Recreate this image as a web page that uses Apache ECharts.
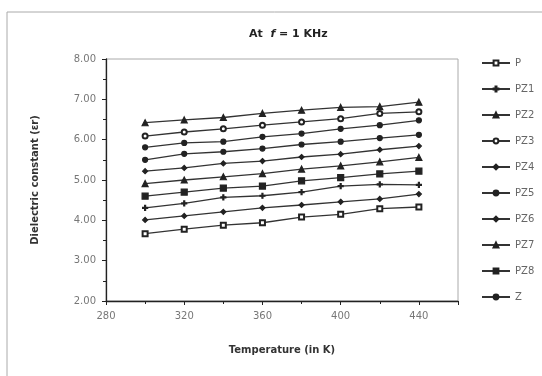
<!DOCTYPE html>
<html>
<head>
<meta charset="utf-8">
<title>At f = 1 KHz</title>
<script src="https://cdn.jsdelivr.net/npm/echarts@6/dist/echarts.min.js"></script>
<style>
  html, body { margin: 0; padding: 0; background: #fff; }
  #main { width: 542px; height: 376px; }
</style>
</head>
<body>
<div id="main"></div>
<script>
// temperature (K)
var temps = [300, 320, 340, 360, 380, 400, 420, 440];

// dielectric constant per sample
var P    = [3.67, 3.78, 3.88, 3.94, 4.08, 4.15, 4.29, 4.33];
var PZ1  = [4.31, 4.42, 4.57, 4.61, 4.70, 4.85, 4.89, 4.88];
var PZ2  = [4.91, 5.00, 5.08, 5.16, 5.27, 5.35, 5.45, 5.56];
var PZ3  = [6.09, 6.19, 6.27, 6.36, 6.44, 6.52, 6.65, 6.69];
var PZ4  = [4.01, 4.11, 4.21, 4.31, 4.38, 4.46, 4.53, 4.65];
var PZ5  = [5.50, 5.65, 5.70, 5.78, 5.88, 5.95, 6.04, 6.12];
var PZ6  = [5.22, 5.30, 5.41, 5.47, 5.57, 5.64, 5.75, 5.84];
var PZ7  = [6.42, 6.49, 6.55, 6.65, 6.73, 6.80, 6.82, 6.93];
var PZ8  = [4.60, 4.70, 4.80, 4.85, 4.98, 5.06, 5.15, 5.22];
var Z    = [5.81, 5.92, 5.95, 6.07, 6.15, 6.27, 6.36, 6.48];

var names   = ['P', 'PZ1', 'PZ2', 'PZ3', 'PZ4', 'PZ5', 'PZ6', 'PZ7', 'PZ8', 'Z'];
var values  = [P, PZ1, PZ2, PZ3, PZ4, PZ5, PZ6, PZ7, PZ8, Z];

var crossPath = 'path://M4,0L6,0L6,4L10,4L10,6L6,6L6,10L4,10L4,6L0,6L0,4L4,4Z';
var symbols = ['emptyRect', crossPath, 'triangle', 'emptyCircle', 'diamond',
               'circle', 'diamond', 'triangle', 'rect', 'circle'];
var sizes   = [5, 5, 6, 5, 5, 5, 5, 6, 6, 5];

var series = [];
for (var i = 0; i < names.length; i++) {
  var d = [];
  for (var j = 0; j < temps.length; j++) d.push([temps[j], values[i][j]]);
  series.push({
    name: names[i],
    type: 'line',
    data: d,
    symbol: symbols[i],
    symbolSize: sizes[i],
    lineStyle: { color: '#333', width: 1.3 },
    itemStyle: { color: '#222', borderColor: '#222', borderWidth: 1.2 }
  });
}

var myChart = echarts.init(document.getElementById('main'));

var option = {
  animation: false,
  backgroundColor: '#fff',
  title: {
    text: 'At  {i|f} = 1 KHz',
    left: 244,
    top: 24,
    textStyle: {
      fontFamily: 'DejaVu Sans',
      fontSize: 11,
      fontWeight: 'bold',
      color: '#222',
      rich: {
        i: { fontFamily: 'DejaVu Sans', fontSize: 11, fontStyle: 'italic', fontWeight: 'bold', color: '#222' }
      }
    }
  },
  legend: {
    orient: 'vertical',
    left: 476,
    top: 52,
    itemWidth: 28,
    itemHeight: 6,
    itemGap: 14,
    textStyle: { fontFamily: 'DejaVu Sans', fontSize: 10, color: '#666', lineHeight: 12 },
    data: names
  },
  grid: {
    left: 106, right: 84, top: 59, bottom: 75,
    show: true, borderColor: '#aaa', borderWidth: 1
  },
  xAxis: {
    type: 'value',
    min: 280, max: 460, interval: 40,
    name: 'Temperature (in K)',
    nameLocation: 'middle',
    nameGap: 44,
    nameTextStyle: { fontFamily: 'DejaVu Sans', fontSize: 10, fontWeight: 'bold', color: '#333' },
    axisLine: { lineStyle: { color: '#222', width: 1.3 } },
    axisTick: { length: 4, lineStyle: { color: '#222' } },
    minorTick: { show: true, splitNumber: 2, length: 3, lineStyle: { color: '#222' } },
    axisLabel: { showMaxLabel: false, margin: 10, fontFamily: 'DejaVu Sans', fontSize: 10, color: '#777' },
    splitLine: { show: false }
  },
  yAxis: {
    type: 'value',
    min: 2, max: 8, interval: 1,
    name: 'Dielectric constant (εr)',
    nameLocation: 'middle',
    nameGap: 66,
    nameTextStyle: { fontFamily: 'DejaVu Sans', fontSize: 10, fontWeight: 'bold', color: '#333' },
    axisLine: { show: true, lineStyle: { color: '#222', width: 1.3 } },
    axisTick: { show: true, length: 4, lineStyle: { color: '#222' } },
    minorTick: { show: true, splitNumber: 2, length: 3, lineStyle: { color: '#222' } },
    axisLabel: {
      margin: 10, fontFamily: 'DejaVu Sans', fontSize: 10, color: '#777',
      formatter: function (v) { return v.toFixed(2); }
    },
    splitLine: { show: false }
  },
  graphic: [{
    type: 'polyline',
    shape: { points: [[7, 376], [7, 12], [542, 12]] },
    style: { stroke: '#aaa', lineWidth: 1, fill: null }
  }],
  series: series
};

myChart.setOption(option);
</script>
</body>
</html>
